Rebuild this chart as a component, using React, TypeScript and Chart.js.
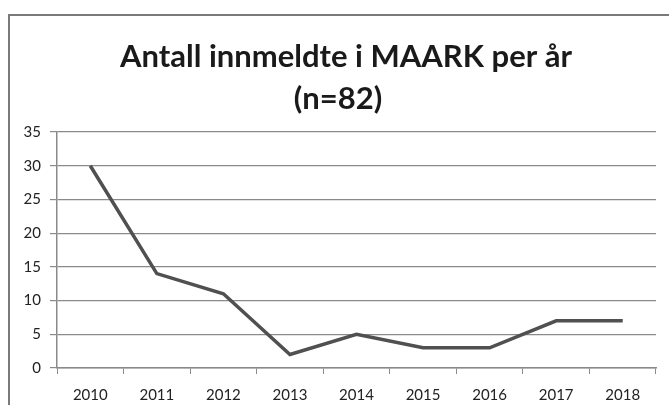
import React, { useEffect, useRef } from "react";
import { Chart, registerables } from "chart.js";

Chart.register(...registerables);

const years = ["2010", "2011", "2012", "2013", "2014", "2015", "2016", "2017", "2018"];
const reported = [30, 14, 11, 2, 5, 3, 3, 7, 7];
const titleLines = ["Antall innmeldte i MAARK per år", "(n=82)"];

const FONT = "Lato, 'Open Sans', sans-serif";

// Draws the frame and the two-line heading above the plot
const framePlugin = {
  id: "frame",
  beforeDraw(chart: any) {
    const { ctx, width, height } = chart;
    ctx.save();
    ctx.fillStyle = "#ffffff";
    ctx.fillRect(0, 0, width, height);
    ctx.strokeStyle = "#7a7a7a";
    ctx.lineWidth = 2;
    ctx.beginPath();
    ctx.moveTo(9, height);
    ctx.lineTo(9, 15);
    ctx.lineTo(width, 15);
    ctx.stroke();
    ctx.fillStyle = "#1a1a1a";
    ctx.font = `bold 31px ${FONT}`;
    ctx.textAlign = "center";
    ctx.textBaseline = "middle";
    ctx.fillText(titleLines[0], 346, 57);
    ctx.fillText(titleLines[1], 338, 99);
    ctx.restore();
  },
};

export default function App() {
  const ref = useRef<HTMLCanvasElement>(null);

  useEffect(() => {
    if (!ref.current) return;
    const chart = new Chart(ref.current, {
      type: "line",
      data: {
        labels: years,
        datasets: [
          {
            data: reported,
            borderColor: "#505050",
            borderWidth: 3.5,
            pointRadius: 0,
            tension: 0,
            fill: false,
          },
        ],
      },
      options: {
        responsive: false,
        animation: false,
        layout: { padding: { top: 132, right: 13, left: 0, bottom: 0 } },
        plugins: {
          legend: { display: false },
          title: { display: false },
          tooltip: { enabled: false },
        },
        scales: {
          x: {
            offset: true,
            grid: {
              offset: true,
              drawOnChartArea: false,
              drawTicks: true,
              tickLength: 6,
              color: "#8a8a8a",
            },
            border: { color: "#8a8a8a", width: 1.5 },
            ticks: {
              color: "#222222",
              font: { family: FONT, size: 15 },
              padding: 12,
              maxRotation: 0,
            },
            afterFit(scale: any) {
              scale.height = 37;
            },
          },
          y: {
            min: 0,
            max: 35,
            ticks: {
              stepSize: 5,
              color: "#222222",
              font: { family: FONT, size: 15 },
              padding: 9,
            },
            grid: {
              color: "#8a8a8a",
              lineWidth: 1.2,
              drawTicks: true,
              tickLength: 7,
            },
            border: { color: "#8a8a8a", width: 1.5 },
            afterFit(scale: any) {
              scale.width = 57;
            },
          },
        },
      },
      plugins: [framePlugin],
    });
    return () => chart.destroy();
  }, []);

  return (
    <div style={{ position: "fixed", left: 0, top: 0, width: 669, height: 405, background: "#fff" }}>
      <canvas ref={ref} width={669} height={405} style={{ display: "block" }} />
    </div>
  );
}
